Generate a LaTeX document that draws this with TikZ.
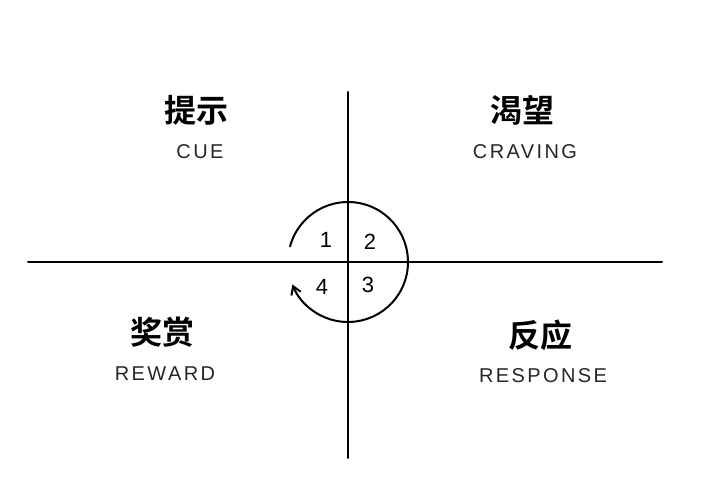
\documentclass[tikz,border=0pt]{standalone}
\usepackage{fontspec}
\usetikzlibrary{arrows.meta}
\newfontfamily\cjk{Noto Sans CJK SC}[BoldFont={* Bold}]
\setsansfont{Liberation Sans}[LetterSpace=12]
\begin{document}
\begin{tikzpicture}[x=1pt,y=1pt,
  zh/.style={font=\cjk\bfseries\fontsize{32}{34}\selectfont},
  en/.style={font=\sffamily\fontsize{20}{22}\selectfont, text=black!85},
  num/.style={font=\sffamily\fontsize{22}{24}\selectfont},
  ln/.style={line width=2pt, line cap=round}]
\useasboundingbox (0,0) rectangle (707,487);
\fill[white] (0,0) rectangle (707,487);
\coordinate (top) at (348,395);
\coordinate (bot) at (348,29);
\coordinate (lft) at (28,225);
\coordinate (rgt) at (662,225);
\coordinate (c) at (348,225);
\draw[ln] (top) -- (bot);
\draw[ln] (lft) -- (rgt);
\draw[ln, -{Straight Barb[length=8pt,width=10pt]}] ([shift={(165:60)}]c) arc[start angle=165, end angle=-158, radius=60];
\node[num] (n1) at (326,247) {1};
\node[num] (n2) at (370,245) {2};
\node[num] (n3) at (368,202) {3};
\node[num] (n4) at (322,200) {4};
\node[zh] (cue) at (196,377) {提示};
\node[en] (cuee) at (200,335) {CUE};
\node[zh] (crav) at (522,377) {渴望};
\node[en] (crave) at (525,335) {CRAVING};
\node[zh] (rew) at (162,155) {奖赏};
\node[en] (rewe) at (165,113) {REWARD};
\node[zh] (res) at (540,152) {反应};
\node[en] (rese) at (543,111) {RESPONSE};
\end{tikzpicture}
\end{document}
